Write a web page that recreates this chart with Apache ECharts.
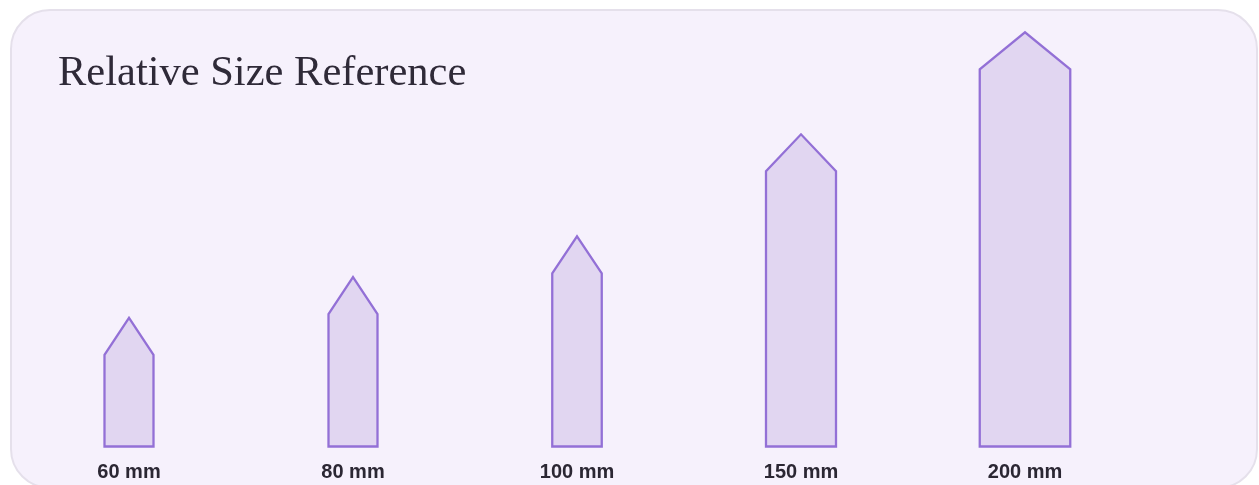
<!DOCTYPE html>
<html>
<head>
<meta charset="utf-8">
<script src="https://cdn.jsdelivr.net/npm/echarts@6/dist/echarts.min.js"></script>
<style>
  html, body { margin: 0; padding: 0; background: #ffffff; overflow: hidden; }
  #panel {
    position: absolute; left: 10px; top: 9px; width: 1244px; height: 476px;
    background: #f6f1fc; border: 2px solid #e5e0eb; border-radius: 40px;
  }
  #chart { position: absolute; left: 0; top: 0; width: 1259px; height: 485px; }
</style>
</head>
<body>
<div id="panel"></div>
<div id="chart"></div>
<script>
const categories = ['60 mm', '80 mm', '100 mm', '150 mm', '200 mm'];
const sizesMm = [60, 80, 100, 150, 200];
const titleText = 'Relative Size Reference';

const chart = echarts.init(document.getElementById('chart'), null, { renderer: 'canvas' });

const tipH = 37;
function widthFor(mm) { return Math.max(49, 0.41 * mm + 8.5); }

chart.setOption({
  backgroundColor: 'transparent',
  animation: false,
  title: {
    text: titleText,
    left: 53,
    top: 47,
    textStyle: { fontFamily: 'Liberation Serif', fontWeight: 'normal', fontSize: 42.5, color: '#2f2a38' }
  },
  grid: { left: 17, right: 122, top: 32.3, bottom: 38.5 },
  xAxis: {
    type: 'category',
    data: categories,
    axisLine: { show: false },
    axisTick: { show: false },
    splitLine: { show: false },
    axisLabel: {
      margin: 16,
      fontFamily: 'Liberation Sans',
      fontWeight: 'bold',
      fontSize: 20,
      lineHeight: 20,
      color: '#2b2733'
    }
  },
  yAxis: { type: 'value', min: -3, max: 200, show: false, splitLine: { show: false } },
  series: [{
    type: 'custom',
    data: sizesMm.map((v, i) => [i, v]),
    renderItem: function (params, api) {
      const idx = api.value(0);
      const mm = api.value(1);
      const tip = api.coord([idx, mm]);
      const base = api.coord([idx, -3]);
      const w = widthFor(mm);
      const cx = tip[0];
      const l = cx - w / 2, r = cx + w / 2;
      const sh = tip[1] + tipH;
      return {
        type: 'polygon',
        shape: { points: [[l, base[1]], [l, sh], [cx, tip[1]], [r, sh], [r, base[1]]] },
        style: { fill: 'rgba(149,117,205,0.22)', stroke: '#9370d6', lineWidth: 2.3, lineJoin: 'miter' }
      };
    }
  }]
});
</script>
</body>
</html>
